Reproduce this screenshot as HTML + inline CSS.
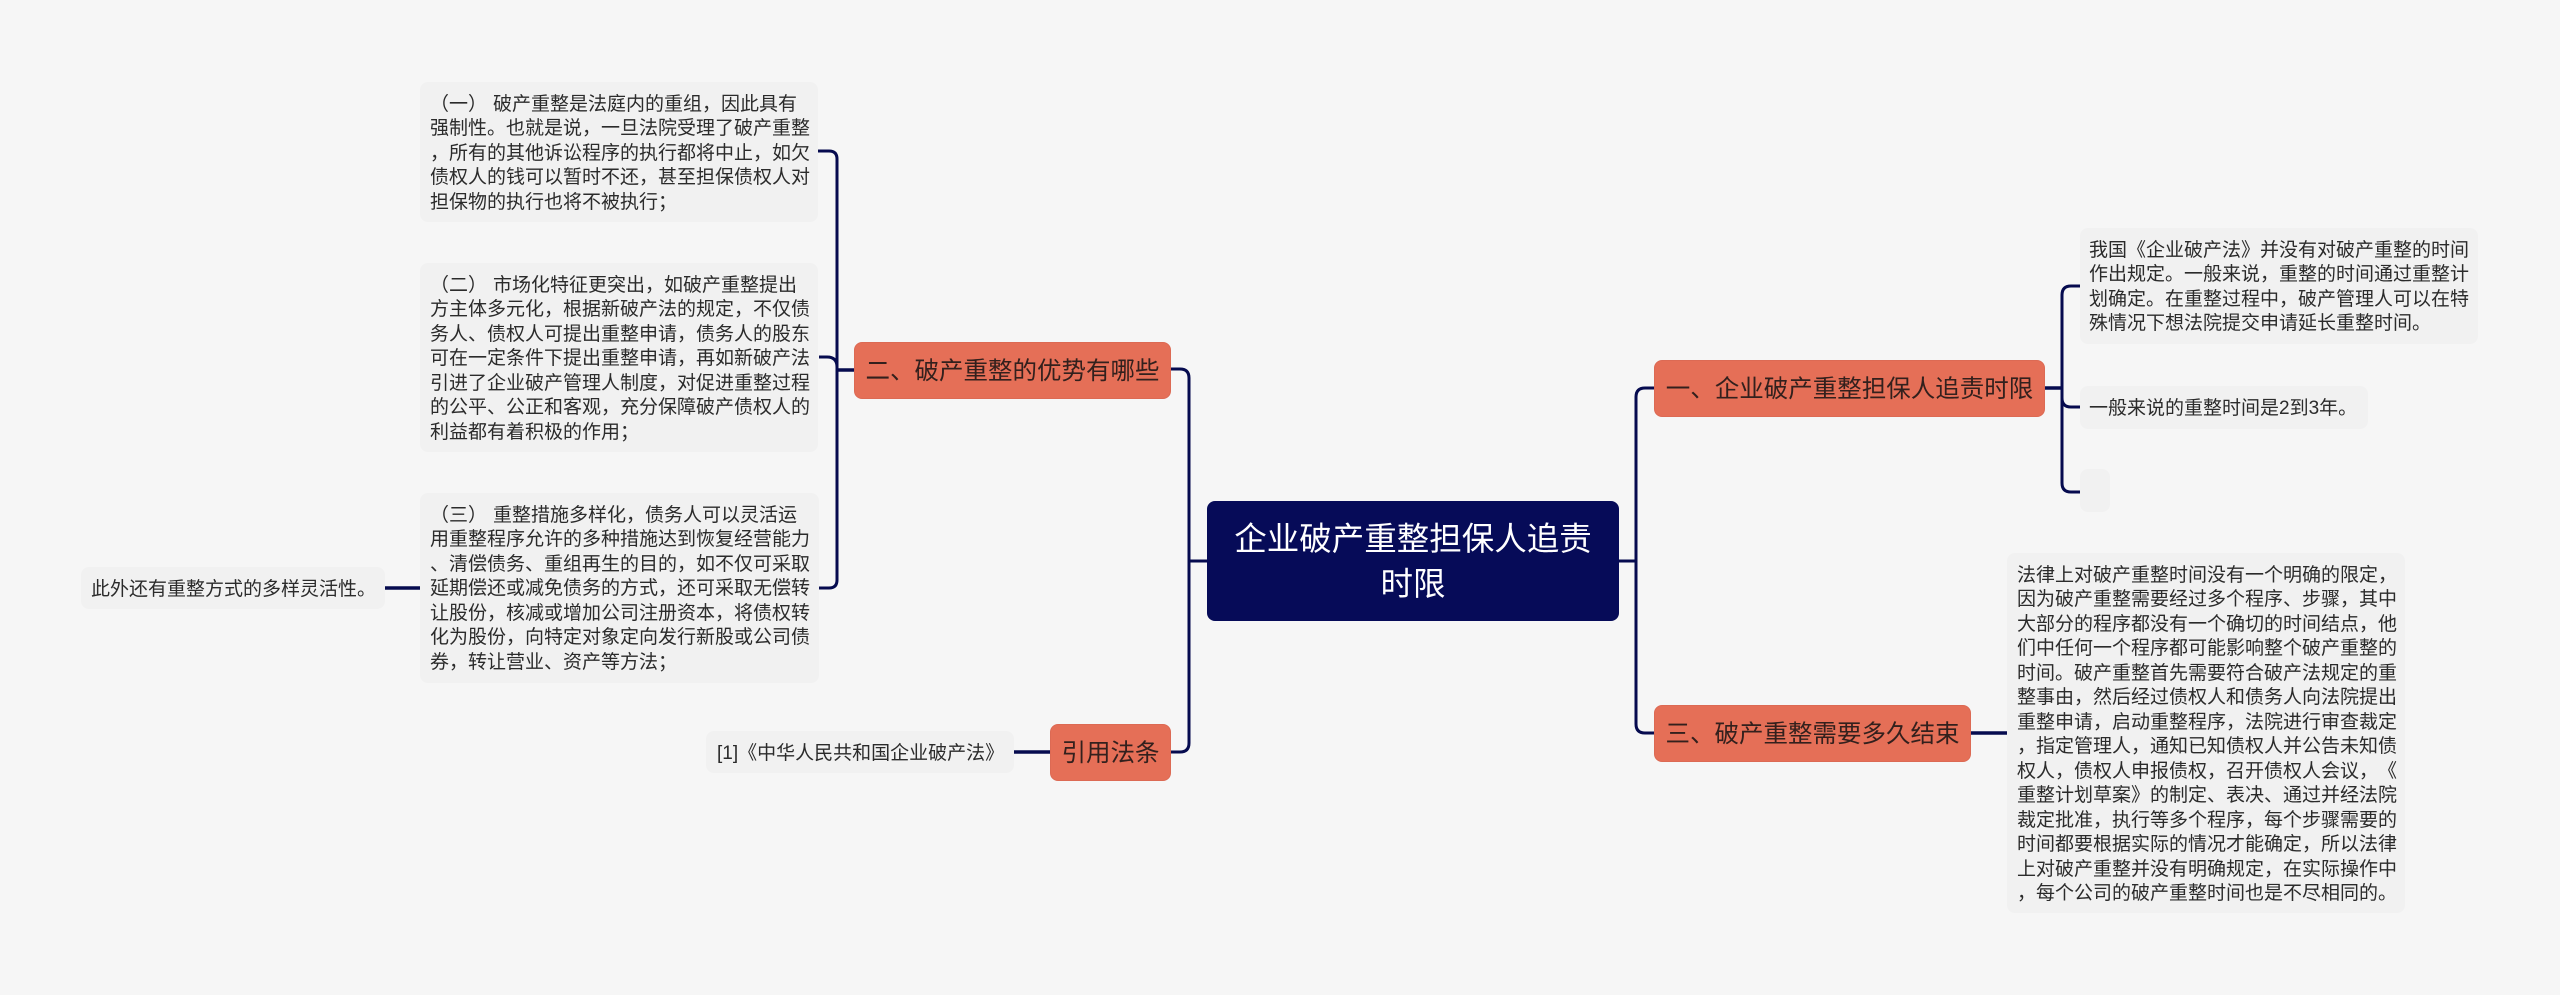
<!DOCTYPE html>
<html lang="zh"><head><meta charset="utf-8"><title>企业破产重整担保人追责时限</title>
<style>
html,body{margin:0;padding:0;background:#f6f6f6}
#c{position:relative;width:2560px;height:995px;overflow:hidden;background:#f6f6f6;font-family:"Liberation Sans","Noto Sans CJK SC",sans-serif;text-spacing-trim:space-all}
svg{position:absolute;left:0;top:0}
.b{position:absolute;background:#f1f1f1;border-radius:8px;box-sizing:border-box;color:#2b2b2b;font-size:19px;line-height:24.5px;padding:10.5px 0 0 10px;white-space:pre}
.b i{font-style:normal;margin-right:6px}
.n{position:absolute;background:#e56f57;border-radius:8px;box-sizing:border-box;border:1px solid #dc6a54;color:#33201d;font-size:24.5px;line-height:57px;text-align:center;white-space:nowrap}
.r{position:absolute;left:1207px;top:501px;width:412px;height:120px;background:#060b58;border-radius:8px;color:#fff;font-size:32.5px;line-height:45px;text-align:center;box-sizing:border-box;padding-top:16px;white-space:pre}
</style></head><body><div id="c">
<svg width="2560" height="995" fill="none" stroke="#060b4f" stroke-width="3">
<path d="M818 151H829Q837 151 837 159V580Q837 588 829 588H819"/>
<path d="M819 357H827Q837 357 837 367" />
<path d="M837 370H854" stroke-width="3.5"/>
<path d="M384 588H420" stroke-width="3.5"/>
<path d="M1170 369H1180Q1189 369 1189 378V743Q1189 752 1180 752H1171"/>
<path d="M1189 561H1207"/>
<path d="M1013 752H1050" stroke-width="3.5"/>
<path d="M1619 561H1636"/>
<path d="M1654 388H1645Q1636 388 1636 397V724Q1636 733 1645 733H1654"/>
<path d="M2045 388H2062" stroke-width="3.5"/>
<path d="M2080 286H2071Q2062 286 2062 295V483Q2062 492 2071 492H2080"/>
<path d="M2080 407H2071Q2062 407 2062 398"/>
<path d="M1971 733H2007" stroke-width="3.5"/>
</svg>

<div class="r">企业破产重整担保人追责
时限</div>

<div class="n" style="left:854px;top:342px;width:317px;height:57px">二、破产重整的优势有哪些</div>
<div class="n" style="left:1050px;top:724px;width:121px;height:57px">引用法条</div>
<div class="n" style="left:1654px;top:360px;width:391px;height:57px">一、企业破产重整担保人追责时限</div>
<div class="n" style="left:1654px;top:705px;width:317px;height:57px">三、破产重整需要多久结束</div>

<div class="b" style="left:420px;top:82px;width:398px;height:140px"><i>（一）</i>破产重整是法庭内的重组，因此具有
强制性。也就是说，一旦法院受理了破产重整
，所有的其他诉讼程序的执行都将中止，如欠
债权人的钱可以暂时不还，甚至担保债权人对
担保物的执行也将不被执行；</div>

<div class="b" style="left:420px;top:263px;width:398px;height:189px"><i>（二）</i>市场化特征更突出，如破产重整提出
方主体多元化，根据新破产法的规定，不仅债
务人、债权人可提出重整申请，债务人的股东
可在一定条件下提出重整申请，再如新破产法
引进了企业破产管理人制度，对促进重整过程
的公平、公正和客观，充分保障破产债权人的
利益都有着积极的作用；</div>

<div class="b" style="left:420px;top:493px;width:399px;height:190px"><i>（三）</i>重整措施多样化，债务人可以灵活运
用重整程序允许的多种措施达到恢复经营能力
、清偿债务、重组再生的目的，如不仅可采取
延期偿还或减免债务的方式，还可采取无偿转
让股份，核减或增加公司注册资本，将债权转
化为股份，向特定对象定向发行新股或公司债
券，转让营业、资产等方法；</div>

<div class="b" style="left:81px;top:567px;width:304px;height:42px">此外还有重整方式的多样灵活性。</div>

<div class="b" style="left:706px;top:731px;width:308px;height:42px;padding-left:11px">[1]《中华人民共和国企业破产法》</div>

<div class="b" style="left:2080px;top:228px;width:398px;height:116px;padding-left:9px">我国《企业破产法》并没有对破产重整的时间
作出规定。一般来说，重整的时间通过重整计
划确定。在重整过程中，破产管理人可以在特
殊情况下想法院提交申请延长重整时间。</div>

<div class="b" style="left:2080px;top:386px;width:288px;height:43px;padding-left:9px">一般来说的重整时间是2到3年。</div>

<div class="b" style="left:2080px;top:469px;width:30px;height:43px"></div>

<div class="b" style="left:2007px;top:553px;width:398px;height:360px">法律上对破产重整时间没有一个明确的限定，
因为破产重整需要经过多个程序、步骤，其中
大部分的程序都没有一个确切的时间结点，他
们中任何一个程序都可能影响整个破产重整的
时间。破产重整首先需要符合破产法规定的重
整事由，然后经过债权人和债务人向法院提出
重整申请，启动重整程序，法院进行审查裁定
，指定管理人，通知已知债权人并公告未知债
权人，债权人申报债权，召开债权人会议，《
重整计划草案》的制定、表决、通过并经法院
裁定批准，执行等多个程序，每个步骤需要的
时间都要根据实际的情况才能确定，所以法律
上对破产重整并没有明确规定，在实际操作中
，每个公司的破产重整时间也是不尽相同的。</div>
</div></body></html>
